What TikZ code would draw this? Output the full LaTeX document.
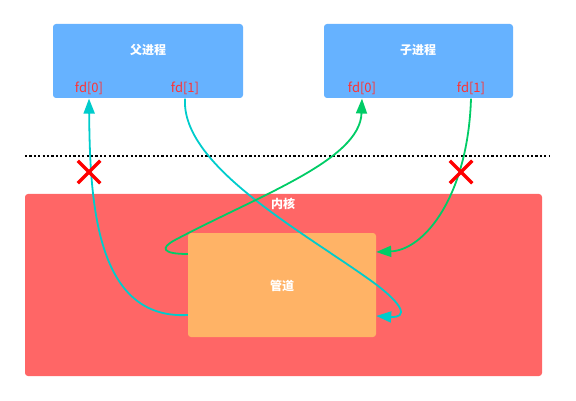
\documentclass[tikz,border=0pt]{standalone}
\usepackage{fontspec}
\newfontfamily\cjk{Noto Sans CJK SC}
\usetikzlibrary{arrows.meta,shapes.misc}

\definecolor{procblue}{RGB}{102,178,255}
\definecolor{kernred}{RGB}{255,102,102}
\definecolor{pipeorange}{RGB}{255,179,102}
\definecolor{fdred}{RGB}{255,51,51}
\definecolor{cyanline}{RGB}{0,204,204}
\definecolor{greenline}{RGB}{0,204,102}

\tikzstyle{box}=[rectangle,rounded corners=3pt,inner sep=0pt]
\tikzstyle{title}=[font=\cjk\fontsize{12}{14}\selectfont\bfseries,text=white]
\tikzstyle{fd}=[font=\cjk\fontsize{13}{15}\selectfont,text=fdred,inner xsep=2pt,inner ysep=4pt]
\tikzstyle{cflow}=[draw=cyanline,line width=1.8pt,-{Triangle[length=15pt,width=11pt]}]
\tikzstyle{gflow}=[draw=greenline,line width=1.8pt,-{Triangle[length=15pt,width=11pt]}]
\tikzstyle{nogo}=[cross out,draw=red,line width=3.5pt,minimum size=19pt,inner sep=0pt]

\begin{document}
\begin{tikzpicture}[x=1pt,y=-1pt]
        \useasboundingbox (0,0) rectangle (576,401);

        \draw (148,61)    node[box,fill=procblue,minimum width=190pt,minimum height=74pt](parent){};
        \draw (418.5,61)  node[box,fill=procblue,minimum width=189pt,minimum height=74pt](child){};
        \draw (283.5,285) node[box,fill=kernred,minimum width=517pt,minimum height=182pt](kernel){};
        \draw (282,285)   node[box,fill=pipeorange,minimum width=188pt,minimum height=104pt](pipe){};
        %
        \draw (148,50)  node[title](ptitle){父进程};
        \draw (418,50)  node[title](ctitle){子进程};
        \draw (283,204) node[title](ktitle){内核};
        \draw (282,286) node[title](pipetitle){管道};
        %
        \draw (89,88)  node[fd](p0){fd[0]};
        \draw (185,88) node[fd](p1){fd[1]};
        \draw (362,88) node[fd](c0){fd[0]};
        \draw (471,88) node[fd](c1){fd[1]};
        %
        \draw[line width=1.6pt,dash pattern=on 2.2pt off 2.2pt] (25,156) -- (550,156);
        %
        \draw[cflow] ([yshift=-30pt]pipe.west) .. controls (95,320) and (90,200) .. (p0.south);
        \draw[cflow] (p1.south) .. controls (181,165) and (300,230) .. (370,280)
                                .. controls (405,305) and (408,318) .. ([yshift=-31pt]pipe.east);
        \draw[gflow] ([yshift=31pt]pipe.west) .. controls (162,254) and (160,248) .. (175,240)
                                .. controls (260,195) and (360,160) .. (c0.south);
        \draw[gflow] (c1.south) .. controls (468,195) and (425,250) .. ([yshift=33pt]pipe.east);
        %
        \draw (89,172)  node[nogo](xp){};
        \draw (461,172) node[nogo](xc){};
\end{tikzpicture}
\end{document}
